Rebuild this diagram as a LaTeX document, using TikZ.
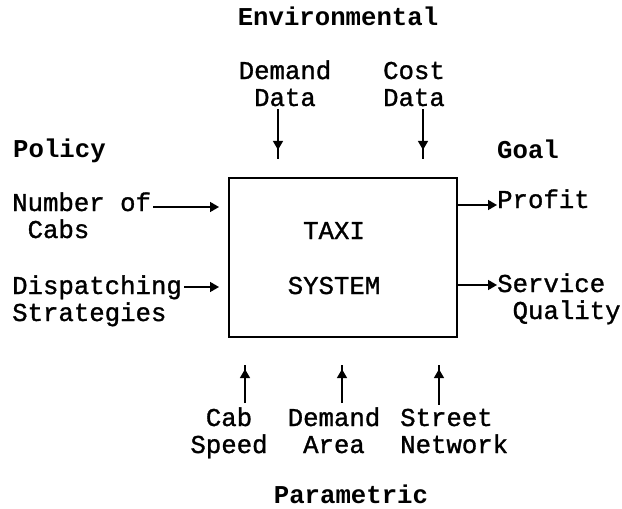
\documentclass[tikz,border=0pt]{standalone}
\usepackage{fontspec}
\setmainfont{Liberation Mono}
\newfontfamily\typefont{Liberation Mono}[FakeBold=1.2]
\usetikzlibrary{arrows.meta}

\begin{document}
\begin{tikzpicture}[x=1pt,y=-1pt,
  lbl/.style={font=\typefont\fontsize{25.7}{27}\selectfont,inner sep=0pt,anchor=base},
  head/.style={lbl,font=\fontsize{25.7}{27}\selectfont\bfseries},
  feed/.style={line width=1.6pt,-{Triangle[length=9pt,width=10pt]}},
  feedgap/.style={line width=1.6pt,-{Triangle[length=9pt,width=10pt,sep=#1]Triangle[length=0.1pt,width=0.1pt]}}]
\useasboundingbox (0,0) rectangle (622,509);
% group titles
\node[head] (env) at (338,25) {Environmental};
\node[head,anchor=base west] (pol) at (13,157) {Policy};
\node[head,anchor=base west] (goal) at (497,158) {Goal};
\node[head] (par) at (351,503) {Parametric};
% the system (base = last line)
\node[draw,line width=1.8pt,minimum width=228pt,minimum height=159pt] (box) at (343,257.5) {};
\node[lbl,align=center] (sys) at (334,294) {TAXI\\[28pt]SYSTEM};
% inputs and outputs
\node[lbl,align=center] (dem) at (285,106) {Demand\\Data};
\node[lbl,align=center] (cost) at (414,106) {Cost\\Data};
\node[lbl,align=left,anchor=base west] (ncab) at (12,238) {Number of\\\phantom{N}Cabs};
\node[lbl,align=left,anchor=base west] (disp) at (12,321) {Dispatching\\Strategies};
\node[lbl,anchor=base west] (profit) at (497,208) {Profit};
\node[lbl,align=left,anchor=base west] (serv) at (497,319) {Service\\\phantom{S}Quality};
\node[lbl,align=center] (speed) at (229,453) {Cab\\Speed};
\node[lbl,align=center] (area) at (334,453) {Demand\\Area};
\node[lbl,align=left,anchor=base west] (net) at (400,453) {Street\\Network};
% arrow ends
\coordinate (inDem) at (278,159);
\coordinate (inCost) at (423,159);
\coordinate (inN) at (219,207);
\coordinate (inS) at (219,287);
\coordinate (outP) at (497,205);
\coordinate (outS) at (497,285);
\coordinate (inCab) at (245,365);
\coordinate (inArea) at (342,365);
\coordinate (inNet) at (439,365);
\draw[feedgap=9pt,shorten <=3pt] (inDem |- dem.south) -- (inDem);
\draw[feedgap=9pt,shorten <=3pt] (inCost |- cost.south) -- (inCost);
\draw[feed,shorten <=2pt] (ncab.east |- inN) -- (inN);
\draw[feed,shorten <=2pt] (disp.east |- inS) -- (inS);
\draw[feed] (box.east |- outP) -- (outP);
\draw[feed] (box.east |- outS) -- (outS);
\draw[feedgap=4pt,shorten <=4pt] (inCab |- speed.north) -- (inCab);
\draw[feedgap=4pt,shorten <=4pt] (inArea |- area.north) -- (inArea);
\draw[feedgap=4pt,shorten <=4pt] (inNet |- net.north) -- (inNet);
\end{tikzpicture}
\end{document}
